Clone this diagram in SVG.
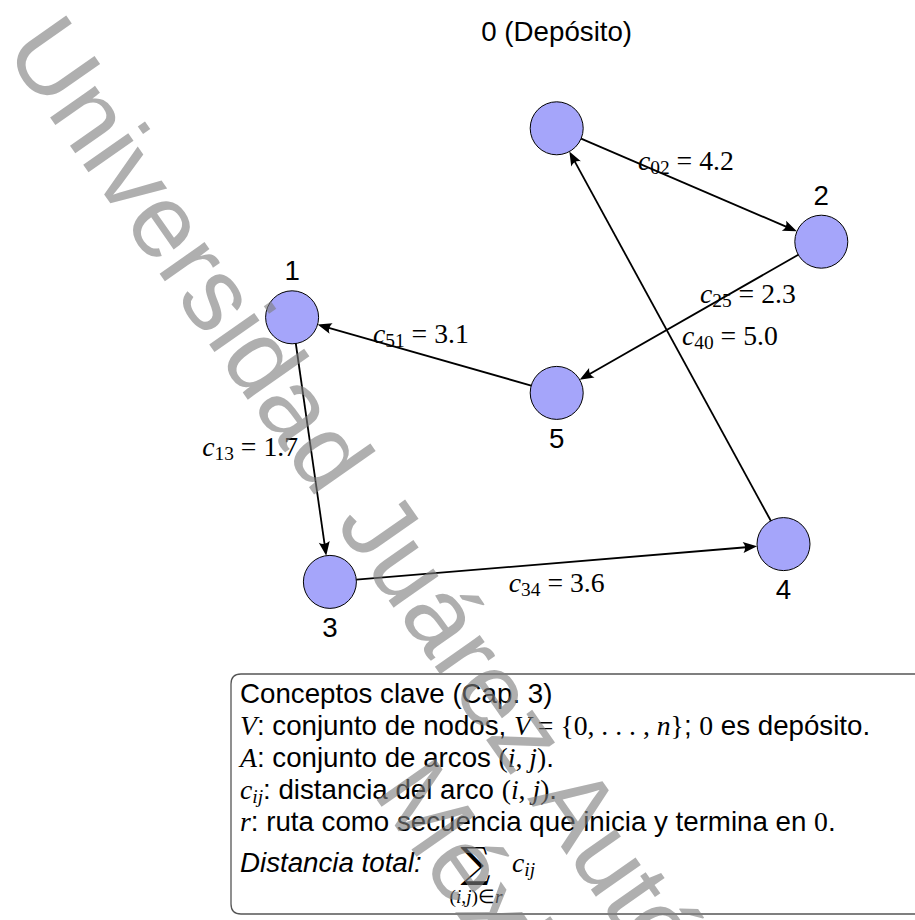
<svg xmlns="http://www.w3.org/2000/svg" width="915" height="920" viewBox="0 0 915 920">
  <defs>
    <marker id="arr" markerUnits="userSpaceOnUse" viewBox="-8 -7 18 14" refX="0" refY="0" markerWidth="18" markerHeight="14" orient="auto">
      <path d="M8,0 L-6,-5.5 Q-2,0 -6,5.5 Z" fill="#000"/>
    </marker>
    <style>
      .nd { fill:#a5a5fa; stroke:#000; stroke-width:1; }
      .t { font-family:"Liberation Sans", Arial, sans-serif; font-size:27.7px; fill:#000; }
      .m { font-family:"Liberation Serif", "Times New Roman", serif; font-style:italic; }
      .r { font-family:"Liberation Serif", "Times New Roman", serif; font-style:normal; }
      .s { font-size:19.4px; }
      .e { stroke:#000; stroke-width:1.8; fill:none; marker-end:url(#arr); }
      .box { fill:none; stroke:#555; stroke-width:1.3; }
      .wm { font-family:"Liberation Sans", Arial, sans-serif; font-size:104px; fill:#7f7f7f; opacity:0.62; }
    </style>
  </defs>
  <rect width="915" height="920" fill="#fff"/>

  <g id="node0">
    <circle class="nd" cx="556.7" cy="128.3" r="26.5"/>
    <text class="t" x="556.7" y="41" text-anchor="middle">0 (Depósito)</text>
  </g>
  <g id="node1">
    <circle class="nd" cx="292.1" cy="317.3" r="26.5"/>
    <text class="t" x="292.1" y="280" text-anchor="middle">1</text>
  </g>
  <g id="node2">
    <circle class="nd" cx="821.3" cy="241.7" r="26.5"/>
    <text class="t" x="821.3" y="205" text-anchor="middle">2</text>
  </g>
  <g id="node3">
    <circle class="nd" cx="329.9" cy="581.9" r="26.5"/>
    <text class="t" x="329.9" y="637" text-anchor="middle">3</text>
  </g>
  <g id="node4">
    <circle class="nd" cx="783.5" cy="544.1" r="26.5"/>
    <text class="t" x="783.5" y="599" text-anchor="middle">4</text>
  </g>
  <g id="node5">
    <circle class="nd" cx="556.7" cy="392.9" r="26.5"/>
    <text class="t" x="556.7" y="448" text-anchor="middle">5</text>
  </g>

  <g id="connectors">
    <path class="e" d="M581.1,138.7 L789.5,228.1"/>
    <path class="e" d="M798.3,254.8 L586.6,375.8"/>
    <path class="e" d="M531.2,385.6 L325.3,326.8"/>
    <path class="e" d="M295.8,343.5 L325.1,547.8"/>
    <path class="e" d="M356.3,579.7 L749.1,547.0"/>
    <path class="e" d="M770.8,520.8 L573.2,158.6"/>
    <text class="t" x="638" y="170"><tspan class="m">c</tspan><tspan class="r s" dy="4.2">02</tspan><tspan class="r" dy="-4.2"> = 4.2</tspan></text>
    <text class="t" x="700" y="303"><tspan class="m">c</tspan><tspan class="r s" dy="4.2">25</tspan><tspan class="r" dy="-4.2"> = 2.3</tspan></text>
    <text class="t" x="682" y="345"><tspan class="m">c</tspan><tspan class="r s" dy="4.2">40</tspan><tspan class="r" dy="-4.2"> = 5.0</tspan></text>
    <text class="t" x="373" y="343"><tspan class="m">c</tspan><tspan class="r s" dy="4.2">51</tspan><tspan class="r" dy="-4.2"> = 3.1</tspan></text>
    <text class="t" x="298" y="456" text-anchor="end"><tspan class="m">c</tspan><tspan class="r s" dy="4.2">13</tspan><tspan class="r" dy="-4.2"> = 1.7</tspan></text>
    <text class="t" x="556.7" y="592" text-anchor="middle"><tspan class="m">c</tspan><tspan class="r s" dy="4.2">34</tspan><tspan class="r" dy="-4.2"> = 3.6</tspan></text>
  </g>

  <g id="conceptos">
    <path class="box" d="M920,674 H241 Q231,674 231,684 V904 Q231,914 241,914 H920"/>
    <text class="t" x="240" y="703">Conceptos clave (Cap. 3)</text>
    <text class="t" x="240" y="735"><tspan class="m">V</tspan>: conjunto de nodos, <tspan class="m">V</tspan><tspan class="r"> = {0, . . . , </tspan><tspan class="m">n</tspan><tspan class="r">}</tspan>; <tspan class="r">0</tspan> es depósito.</text>
    <text class="t" x="240" y="767"><tspan class="m">A</tspan>: conjunto de arcos <tspan class="r">(</tspan><tspan class="m">i</tspan><tspan class="r">, </tspan><tspan class="m">j</tspan><tspan class="r">)</tspan>.</text>
    <text class="t" x="240" y="799"><tspan class="m">c</tspan><tspan class="m s" dy="4.2">ij</tspan><tspan dy="-4.2">: distancia del arco </tspan><tspan class="r">(</tspan><tspan class="m">i</tspan><tspan class="r">, </tspan><tspan class="m">j</tspan><tspan class="r">)</tspan>.</text>
    <text class="t" x="240" y="831"><tspan class="m">r</tspan>: ruta como secuencia que inicia y termina en <tspan class="r">0</tspan>.</text>
    <text class="t" x="240" y="872" font-style="italic">Distancia total:</text>
    <text x="475.5" y="877" font-family="'DejaVu Serif', 'DejaVu Sans', serif" font-size="42" text-anchor="middle" fill="#000">∑</text>
    <text class="t" x="512" y="872"><tspan class="m">c</tspan><tspan class="m s" dy="4.2">ij</tspan></text>
    <text class="t s" x="476" y="903" text-anchor="middle"><tspan class="r">(</tspan><tspan class="m">i</tspan><tspan class="r">,</tspan><tspan class="m">j</tspan><tspan class="r">)∈</tspan><tspan class="m">r</tspan></text>
  </g>

  <g id="watermark" transform="translate(3,50) rotate(55)">
    <text class="wm" x="0" y="0">Universidad Juárez Autónoma</text>
    <text class="wm" x="820" y="124">México</text>
  </g>
</svg>
